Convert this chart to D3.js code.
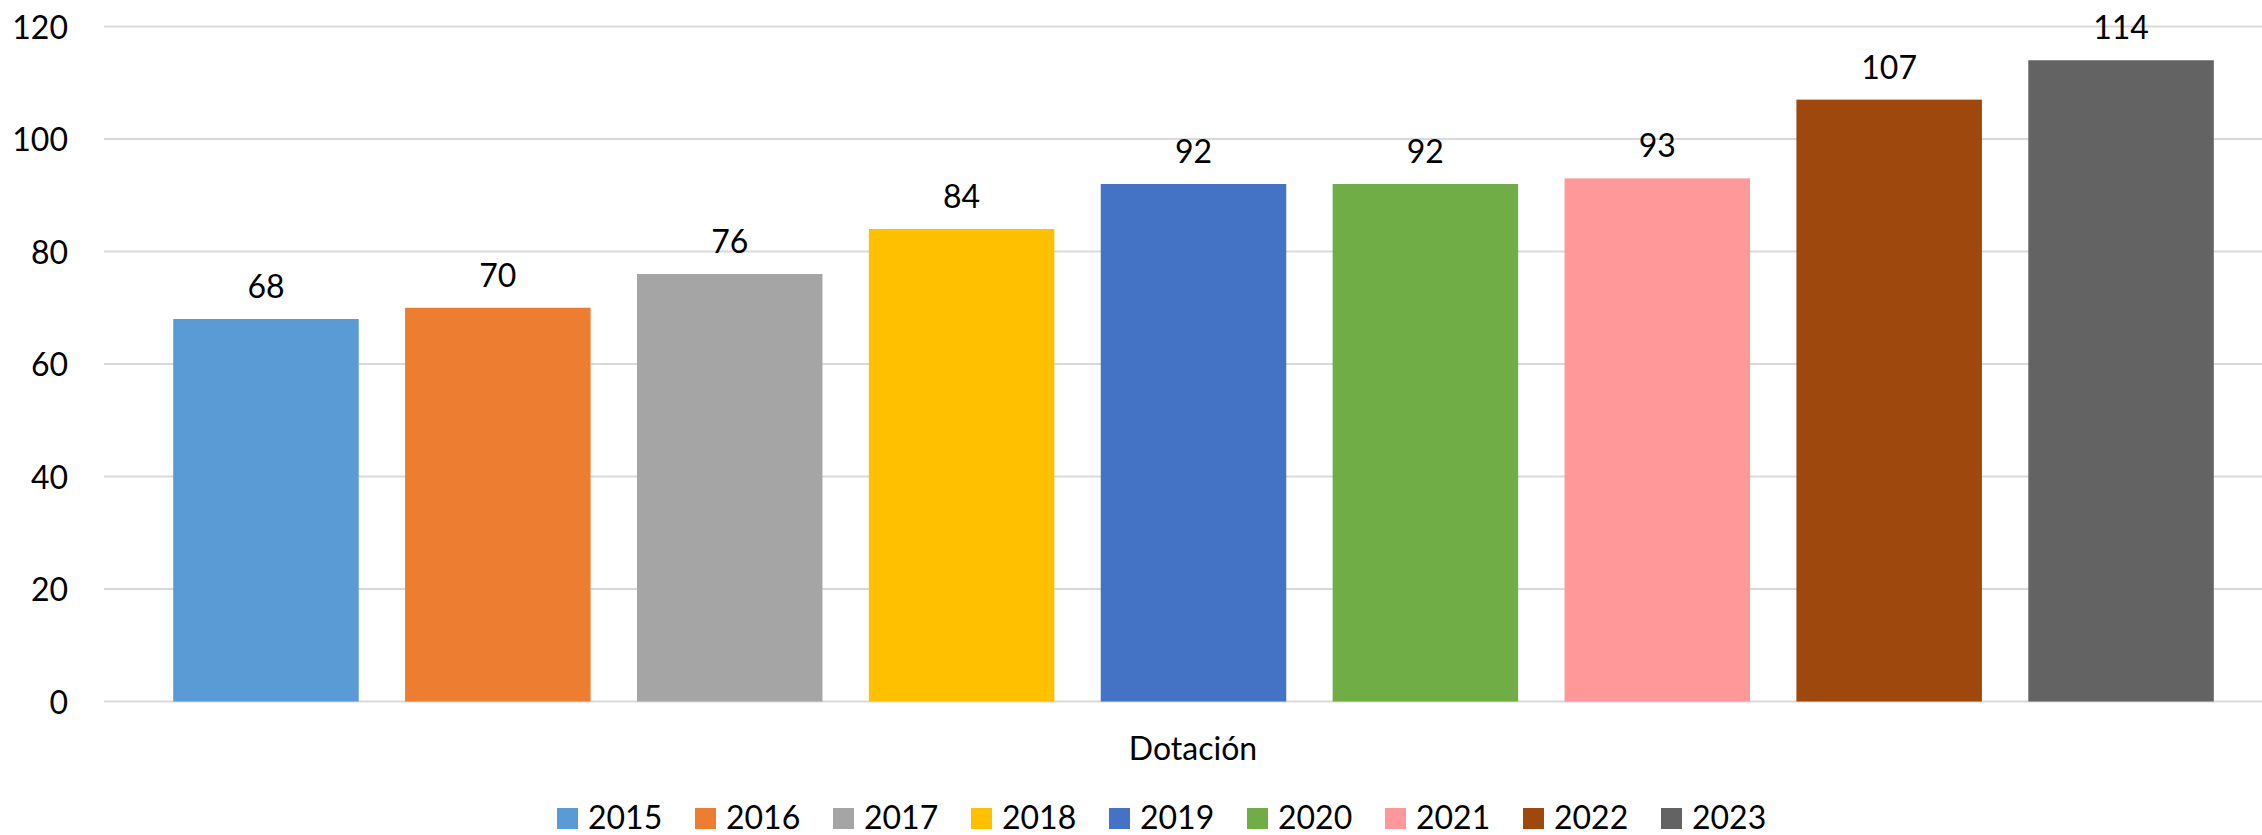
<!DOCTYPE html>
<html>
<head>
<meta charset="utf-8">
<script src="https://cdn.jsdelivr.net/npm/d3@7"></script>
<style>
  body { margin: 0; background: #fff; }
  svg text { font-family: Lato, "Open Sans", sans-serif; fill: #000; }
</style>
</head>
<body>
<div id="chart"></div>
<script>
// data
var years = ["2015", "2016", "2017", "2018", "2019", "2020", "2021", "2022", "2023"];
var values = [68, 70, 76, 84, 92, 92, 93, 107, 114];
var colors = ["#5B9BD5", "#ED7D31", "#A5A5A5", "#FFC000", "#4472C4", "#70AD47", "#FF9999", "#9E480E", "#636363"];
var yTicks = [0, 20, 40, 60, 80, 100, 120];
var category = "Dotación";

var width = 2262,
    height = 835;

var svg = d3.select("#chart").append("svg")
    .attr("width", width)
    .attr("height", height);

var y = d3.scaleLinear()
    .domain([0, 120])
    .range([701.5, 26.5]);

var x = d3.scaleBand()
    .domain(years)
    .range([150, 2237])
    .paddingInner(0.2)
    .paddingOuter(0.1);

// gridlines
svg.append("g")
    .selectAll("line")
    .data(yTicks)
  .enter().append("line")
    .attr("x1", 104)
    .attr("x2", width)
    .attr("y1", function(d) { return y(d); })
    .attr("y2", function(d) { return y(d); })
    .style("stroke", "#d9d9d9")
    .style("stroke-width", "2px");

// y axis labels
var yAxis = d3.axisLeft(y)
    .tickValues(yTicks)
    .tickSize(0)
    .tickPadding(0);

var axisG = svg.append("g")
    .attr("transform", "translate(68,0)")
    .call(yAxis);
axisG.select(".domain").remove();
axisG.selectAll("text")
    .style("font-size", "32px")
    .attr("dy", "0.36em")
    .attr("fill", "#000");

// bars
svg.append("g")
    .selectAll("rect")
    .data(years)
  .enter().append("rect")
    .attr("x", function(d) { return x(d); })
    .attr("width", x.bandwidth())
    .attr("y", function(d, i) { return y(values[i]); })
    .attr("height", function(d, i) { return y(0) - y(values[i]); })
    .style("fill", function(d, i) { return colors[i]; });

// value labels
svg.append("g")
    .selectAll("text")
    .data(years)
  .enter().append("text")
    .attr("x", function(d) { return x(d) + x.bandwidth() / 2; })
    .attr("y", function(d, i) { return y(values[i]) - 21; })
    .style("text-anchor", "middle")
    .style("font-size", "32px")
    .text(function(d, i) { return values[i]; });

// category label
svg.append("text")
    .attr("x", 1193)
    .attr("y", 760)
    .style("text-anchor", "middle")
    .style("font-size", "32px")
    .text(category);

// legend
var legend = svg.append("g")
    .selectAll("g")
    .data(years)
  .enter().append("g")
    .attr("transform", function(d, i) { return "translate(" + (557 + i * 138) + ",808)"; });

legend.append("rect")
    .attr("width", 21)
    .attr("height", 21)
    .style("fill", function(d, i) { return colors[i]; });

legend.append("text")
    .attr("x", 31)
    .attr("y", 21)
    .style("font-size", "32px")
    .text(function(d) { return d; });
</script>
</body>
</html>
